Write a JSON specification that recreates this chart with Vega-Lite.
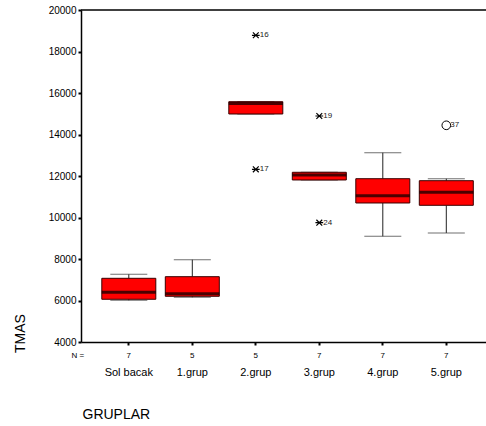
{
  "$schema": "https://vega.github.io/schema/vega-lite/v6.json",
  "autosize": {"type": "none"},
  "padding": {"left": 81, "top": 10, "right": 0, "bottom": 84},
  "width": 405,
  "height": 332,
  "background": "white",
  "config": {
    "view": {"stroke": null},
    "font": "Liberation Sans",
    "axis": {"grid": false, "domainColor": "black", "tickColor": "black", "labelColor": "black", "titleColor": "black", "titleFontWeight": "normal", "labelFont": "Liberation Sans", "titleFont": "Liberation Sans"},
    "axisY": {"values": [4000, 6000, 8000, 10000, 12000, 14000, 16000, 18000, 20000], "format": "d", "tickSize": 3, "tickWidth": 2, "domainWidth": 1.5, "labelFontSize": 10, "labelPadding": 2, "titleFontSize": 14, "titleX": -61, "titleY": 323, "titleAlign": "center", "titleBaseline": "middle", "titleAngle": -90},
    "axisX": {"labelAngle": 0, "domainWidth": 1.5, "tickSize": 3, "tickWidth": 2, "labelFontSize": 11, "labelPadding": 21, "titleFontSize": 14, "titleX": 1, "titleY": 76, "titleAlign": "left", "titleBaseline": "alphabetic", "titleAnchor": "start"}
  },
  "datasets": {
    "stats": [
      {"group": "Sol bacak", "n": 7, "lo": 6010, "q1": 6059, "med": 6396, "q3": 7070, "hi": 7263},
      {"group": "1.grup", "n": 5, "lo": 6155, "q1": 6203, "med": 6328, "q3": 7148, "hi": 7967},
      {"group": "2.grup", "n": 5, "lo": 14988, "q1": 14988, "med": 15494, "q3": 15581, "hi": 15581},
      {"group": "3.grup", "n": 7, "lo": 11808, "q1": 11808, "med": 12049, "q3": 12179, "hi": 12179},
      {"group": "4.grup", "n": 7, "lo": 9094, "q1": 10699, "med": 11051, "q3": 11870, "hi": 13123},
      {"group": "5.grup", "n": 7, "lo": 9254, "q1": 10588, "med": 11214, "q3": 11774, "hi": 11870}
    ],
    "outliers": [
      {"group": "2.grup", "value": 18781, "case": "16", "kind": "extreme"},
      {"group": "2.grup", "value": 12323, "case": "17", "kind": "extreme"},
      {"group": "3.grup", "value": 14892, "case": "19", "kind": "extreme"},
      {"group": "3.grup", "value": 9750, "case": "24", "kind": "extreme"},
      {"group": "5.grup", "value": 14443, "case": "37", "kind": "outlier"}
    ],
    "frame": [{"edge": 20000}]
  },
  "resolve": {"scale": {"y": "independent"}, "axis": {"y": "independent"}},
  "layer": [
    {
      "layer": [
        {
          "data": {"name": "frame"},
          "mark": {"type": "rule", "color": "black", "strokeWidth": 1.5},
          "encoding": {
            "y": {"field": "edge", "type": "quantitative", "scale": {"domain": [4000, 20000], "nice": false, "zero": false}, "title": "TMAS"}
          }
        },
        {
          "encoding": {
            "x": {
              "field": "group", "type": "nominal",
              "sort": ["Sol bacak", "1.grup", "2.grup", "3.grup", "4.grup", "5.grup"],
              "scale": {"paddingInner": 0, "paddingOuter": 0.189, "align": 0.669},
              "title": "GRUPLAR"
            }
          },
          "layer": [
            {
              "data": {"name": "stats"},
              "mark": {"type": "rule", "color": "#222", "strokeWidth": 1},
              "encoding": {
                "y": {"field": "lo", "type": "quantitative", "title": "TMAS"},
                "y2": {"field": "q1"}
              }
            },
            {
              "data": {"name": "stats"},
              "mark": {"type": "rule", "color": "#222", "strokeWidth": 1},
              "encoding": {
                "y": {"field": "q3", "type": "quantitative", "title": "TMAS"},
                "y2": {"field": "hi"}
              }
            },
            {
              "data": {"name": "stats"},
              "mark": {"type": "tick", "color": "#333", "thickness": 1, "size": 37},
              "encoding": {
                "y": {"field": "lo", "type": "quantitative", "title": "TMAS"}
              }
            },
            {
              "data": {"name": "stats"},
              "mark": {"type": "tick", "color": "#333", "thickness": 1, "size": 37},
              "encoding": {
                "y": {"field": "hi", "type": "quantitative", "title": "TMAS"}
              }
            },
            {
              "data": {"name": "stats"},
              "mark": {"type": "bar", "fill": "#ff0000", "stroke": "#3a0000", "strokeWidth": 1, "size": 54},
              "encoding": {
                "y": {"field": "q1", "type": "quantitative", "title": "TMAS"},
                "y2": {"field": "q3"}
              }
            },
            {
              "data": {"name": "stats"},
              "mark": {"type": "tick", "color": "black", "thickness": 3, "size": 54},
              "encoding": {
                "y": {"field": "med", "type": "quantitative", "title": "TMAS"}
              }
            },
            {
              "data": {"name": "outliers"},
              "transform": [{"filter": "datum.kind === 'extreme'"}],
              "mark": {"type": "point", "shape": "M-1,0L1,0M-0.75,-0.75L0.75,0.75M-0.75,0.75L0.75,-0.75", "stroke": "black", "strokeWidth": 1.2, "filled": false, "size": 60, "opacity": 1},
              "encoding": {
                "y": {"field": "value", "type": "quantitative", "title": "TMAS"}
              }
            },
            {
              "data": {"name": "outliers"},
              "transform": [{"filter": "datum.kind === 'outlier'"}],
              "mark": {"type": "point", "shape": "circle", "stroke": "black", "strokeWidth": 1, "filled": false, "size": 75, "opacity": 1},
              "encoding": {
                "y": {"field": "value", "type": "quantitative", "title": "TMAS"}
              }
            },
            {
              "data": {"name": "outliers"},
              "mark": {"type": "text", "align": "left", "baseline": "middle", "dx": 4, "fontSize": 8, "fill": "#222"},
              "encoding": {
                "y": {"field": "value", "type": "quantitative", "title": "TMAS"},
                "text": {"field": "case"}
              }
            }
          ]
        }
      ]
    },
    {
      "data": {"name": "stats"},
      "encoding": {
        "x": {
          "field": "group", "type": "nominal",
          "sort": ["Sol bacak", "1.grup", "2.grup", "3.grup", "4.grup", "5.grup"],
          "scale": {"paddingInner": 0, "paddingOuter": 0.189, "align": 0.669},
          "title": "GRUPLAR"
        }
      },
      "layer": [
        {
          "mark": {"type": "text", "align": "center", "baseline": "middle", "fontSize": 8, "fill": "black"},
          "encoding": {
            "y": {"datum": 3325, "type": "quantitative", "scale": {"domain": [4000, 20000], "nice": false, "zero": false}, "axis": null},
            "text": {"field": "n"}
          }
        },
        {
          "transform": [{"filter": "datum.group === 'Sol bacak'"}],
          "mark": {"type": "text", "align": "center", "baseline": "middle", "fontSize": 8, "fill": "black", "dx": -51, "text": "N ="},
          "encoding": {
            "y": {"datum": 3325, "type": "quantitative", "scale": {"domain": [4000, 20000], "nice": false, "zero": false}, "axis": null}
          }
        }
      ]
    }
  ]
}
